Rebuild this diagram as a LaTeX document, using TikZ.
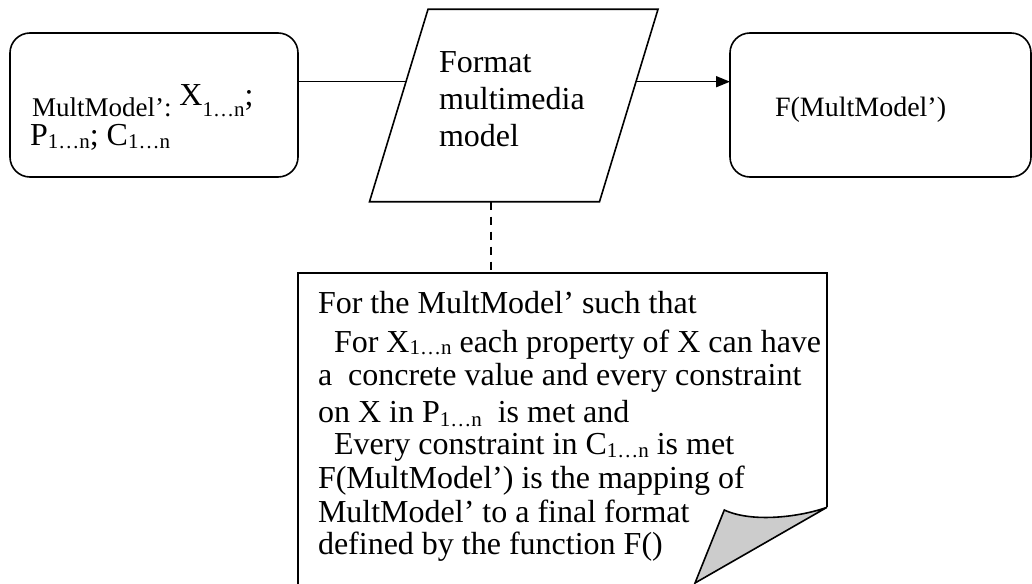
\documentclass[tikz,border=0pt]{standalone}
\usepackage{fontspec}
\setmainfont{Liberation Serif}
\usetikzlibrary{arrows.meta,calc}
% lowered, smaller index text such as "1…n"
\newcommand{\lsub}[2][3]{\raisebox{-#1pt}{\fontsize{21}{21}\selectfont #2}}

\begin{document}
\begin{tikzpicture}[x=1pt,y=-1pt,line width=1.6pt,
  rbox/.style={draw,rounded corners=20pt,inner sep=0pt,outer sep=0pt},
  txt/.style={anchor=base west,inner sep=0pt,outer sep=0pt,font=\fontsize{32}{32}\selectfont},
  smalltxt/.style={txt,font=\fontsize{28}{28}\selectfont},
  flap/.style={draw,fill=gray!40,line join=miter},
  link/.style={draw},
  guide/.style={draw,dash pattern=on 8pt off 7pt}]
\useasboundingbox (0,0) rectangle (1032,583);

% input and output boxes
\node[rbox,minimum width=288pt,minimum height=144pt] (src) at (154,105) {};
\node[rbox,minimum width=301pt,minimum height=144pt] (dst) at (880.5,105) {};

% process parallelogram
\coordinate (pBL) at (369.5,201.7);
\coordinate (pBR) at (599.5,201.7);
\coordinate (pTR) at (658,9.3);
\coordinate (pTL) at (428,9.3);
\draw (pBL) -- (pBR) -- (pTR) -- (pTL) -- cycle;
\coordinate (pL) at ($(pBL)!0.6237!(pTL)$);
\coordinate (pR) at ($(pBR)!0.6237!(pTR)$);
\coordinate (pB) at (490.7,201.7);

% texts of the three flow shapes
\node[txt] (srcA) at (32,106) {{\fontsize{27}{27}\selectfont\raisebox{-10.7pt}{MultModel’:}} X\lsub[10.7]{1…n};};
\node[txt] (srcB) at (30,145) {P\lsub[3.3]{1…n}; C\lsub[3.3]{1…n}};
\node[txt] (fmtA) at (439,72.7) {Format};
\node[txt] (fmtB) at (439,110) {multimedia};
\node[txt] (fmtC) at (439,146.7) {model};
\node[smalltxt] (dstA) at (775,116.7) {F(MultModel’)};

% flow connectors
\draw[link] (src.east |- pL) -- (pL);
\draw[link,-{Triangle[length=14pt,width=11pt]}] (pR) -- (dst.west |- pR);

% note with folded corner
\coordinate (nTop) at (490.7,273);
\fill[white] (298,273) -- (827,273) -- (827,507.3) -- (695,585) -- (298,585) -- cycle;
\draw (298,586) -- (298,273) -- (827,273) -- (827,507.3);
\draw (298,585) -- (695,585);
\path[flap] (827,507.3) .. controls (800,517) and (752,523) .. (724.3,510)
  -- (695,583) -- cycle;
\draw[guide] (pB) -- (nTop);

% note text
\node[txt] (n1) at (318,313) {For the MultModel’ such that};
\node[txt] (n2) at (334,352) {For X\lsub[2.5]{1…n} each property of X can have};
\node[txt] (n3) at (318,385) {a\ \ concrete value and every constraint};
\node[txt] (n4) at (318,422) {on X in P\lsub[4.5]{1…n}\ \ is met and};
\node[txt] (n5) at (334,454) {Every constraint in C\lsub[3]{1…n} is met};
\node[txt] (n6) at (318,488) {F(MultModel’) is the mapping of};
\node[txt] (n7) at (318,522) {MultModel’ to a final format};
\node[txt] (n8) at (318,554) {defined by the function F()};
\end{tikzpicture}
\end{document}
